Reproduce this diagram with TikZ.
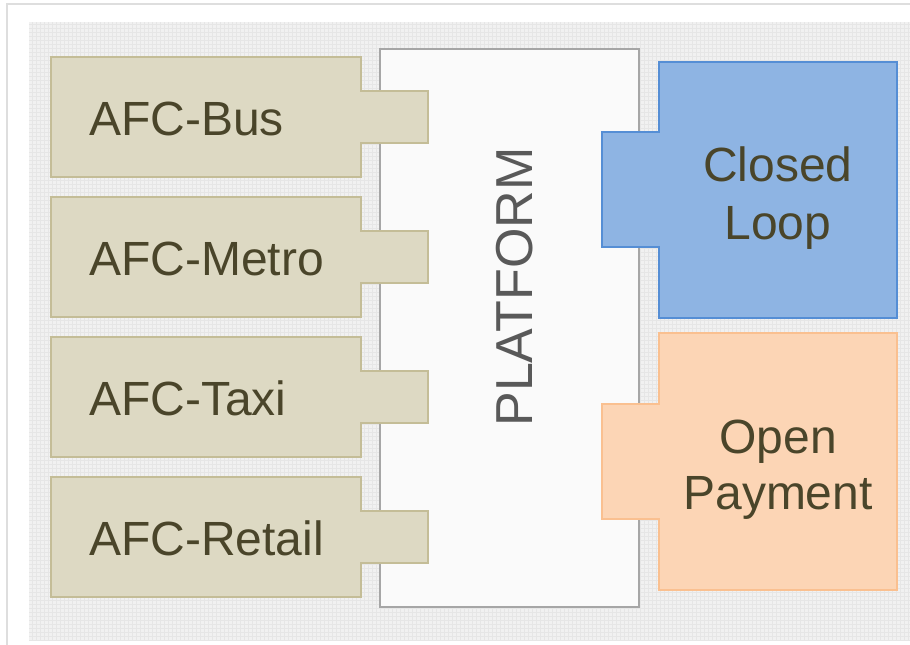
\documentclass[tikz,border=0pt]{standalone}
\usepackage{fontspec}
\setmainfont{Liberation Sans}
\definecolor{tanfill}{HTML}{DDD9C3}
\definecolor{tanline}{HTML}{C4BD97}
\definecolor{bluefill}{HTML}{8EB4E3}
\definecolor{blueline}{HTML}{558ED5}
\definecolor{peachfill}{HTML}{FCD5B5}
\definecolor{peachline}{HTML}{FAC090}
\definecolor{labeltext}{HTML}{4A452A}
\definecolor{platformtext}{HTML}{595959}
\definecolor{panel}{HTML}{F1F1F1}
\definecolor{panelgrid}{HTML}{E6E6E6}
\tikzset{
  afcbox/.style={fill=tanfill, draw=tanline, line width=1.5pt, line join=miter},
  loopbox/.style={fill=bluefill, draw=blueline, line width=2pt, line join=miter},
  openbox/.style={fill=peachfill, draw=peachline, line width=2pt, line join=miter},
  platbox/.style={fill=black!2, draw=black!35, line width=2pt},
  bigtext/.style={inner sep=0pt, text=labeltext, font=\fontsize{48}{57}\selectfont},
}
\begin{document}
\begin{tikzpicture}[x=1pt, y=-1pt]
\useasboundingbox (0,0) rectangle (910,645);
% page frame and textured panel
\fill[white] (0,0) rectangle (910,645);
\draw[black!13, line width=2pt] (7,645) -- (7,4) -- (910,4);
\fill[panel] (29,22) rectangle (910,640);
\draw[panelgrid, line width=0.4pt, step=4pt] (29,22) grid (910,640);

% platform in the middle
\draw[platbox] (380,49) rectangle (639,607);
\node[inner sep=0pt, text=platformtext, rotate=90, font=\fontsize{52}{60}\selectfont] (platform) at (515,287) {PLATFORM};

% AFC blocks with their tabs reaching into the platform
\foreach \t/\nm/\lbl in {57/bus/AFC-Bus, 197/metro/AFC-Metro, 337/taxi/AFC-Taxi, 477/retail/AFC-Retail}{
  \draw[afcbox] (51,\t) -- (361,\t) -- (361,\t+34) -- (428,\t+34) -- (428,\t+86)
    -- (361,\t+86) -- (361,\t+120) -- (51,\t+120) -- cycle;
  \node[bigtext, anchor=base west] (\nm) at (89,\t+78) {\lbl};
}

% closed loop block
\draw[loopbox] (659,62) -- (897,62) -- (897,318) -- (659,318) -- (659,247)
  -- (602,247) -- (602,132) -- (659,132) -- cycle;
\node[bigtext, anchor=base] (closed) at (778,181) {Closed};
\node[bigtext, anchor=base] (loop) at (778,239) {Loop};

% open payment block
\draw[openbox] (659,333) -- (897,333) -- (897,590) -- (659,590) -- (659,519)
  -- (602,519) -- (602,404) -- (659,404) -- cycle;
\node[bigtext, anchor=base] (open) at (778,453) {Open};
\node[bigtext, anchor=base] (payment) at (778,509) {Payment};
\end{tikzpicture}
\end{document}
